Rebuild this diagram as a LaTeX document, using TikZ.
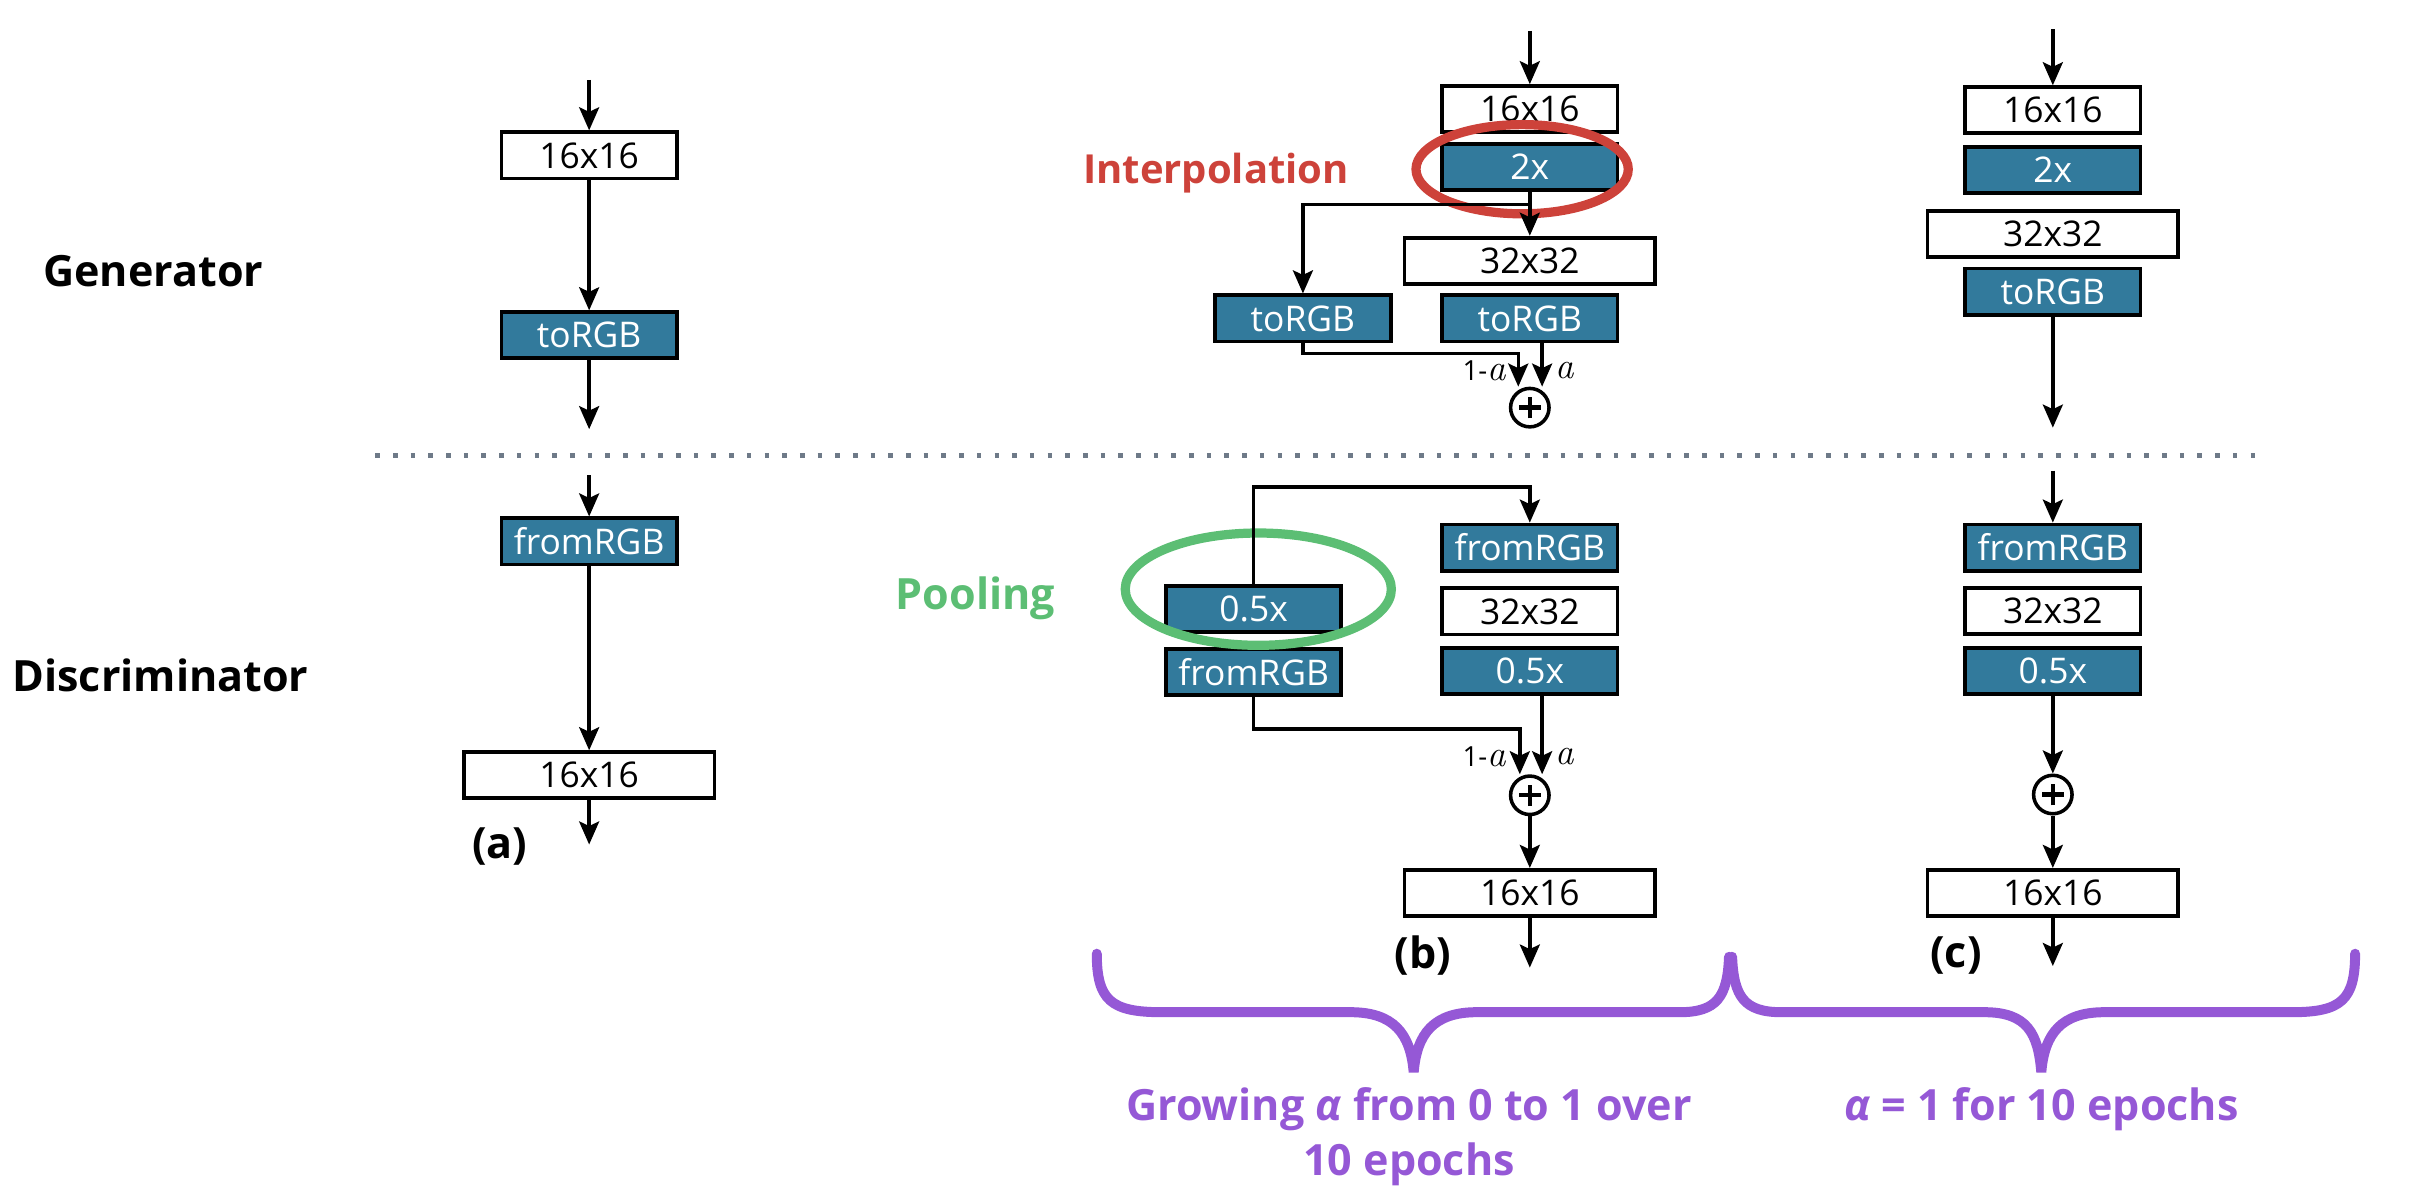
\documentclass[tikz,border=0pt]{standalone}
\usepackage{fontspec}
\setmainfont{Open Sans}
\newfontfamily\lmfont{Latin Modern Roman}
\usetikzlibrary{arrows.meta,shapes.geometric}
\definecolor{boxblue}{RGB}{50,122,156}
\definecolor{interpred}{RGB}{205,66,58}
\definecolor{poolgreen}{RGB}{92,190,116}
\definecolor{bracepurple}{RGB}{149,88,214}
\definecolor{dotgrey}{RGB}{110,122,136}
\begin{document}
\begin{tikzpicture}[x=1pt,y=-1pt,->,>={Stealth[length=15pt,width=13pt,inset=3pt]},line width=2.2pt]
	\def \colb{994.5}
	\def \colc{1334.5}
	\def \sepline{296}
	\tikzstyle{w-node}=[rectangle,draw=black,line width=2.5pt,fill=white,inner sep=0pt,minimum height=30pt,minimum width=114pt,font=\fontsize{23}{27}\selectfont]
	\tikzstyle{b-node}=[w-node,fill=boxblue,text=white]
	\tikzstyle{wide}=[minimum width=163pt]
	\tikzstyle{sum-node}=[circle,draw=black,line width=2.3pt,minimum size=25pt,inner sep=0pt,
		path picture={\draw[-,line width=2.8pt] ([xshift=-7pt]path picture bounding box.center) -- ([xshift=7pt]path picture bounding box.center);
		\draw[-,line width=2.8pt] ([yshift=-7pt]path picture bounding box.center) -- ([yshift=7pt]path picture bounding box.center);}]
	\tikzstyle{annot}=[inner sep=0pt,font=\bfseries\fontsize{28}{32}\selectfont]
	\tikzstyle{w-label}=[inner sep=0pt,font=\fontsize{18}{22}\selectfont]
	\tikzstyle{ring}=[-,ellipse,draw,line width=6pt,inner sep=0pt]
	\tikzstyle{sep-line}=[-,dotgrey,line width=3pt,dash pattern=on 3pt off 8.5pt]
	\tikzstyle{brace-line}=[-,bracepurple,line width=6.5pt,line cap=round]
	\tikzstyle{brace-text}=[inner sep=0pt,align=center,text=bracepurple,font=\bfseries\fontsize{28}{36}\selectfont]
	\useasboundingbox (0,0) rectangle (1568,771);

	% labels
	\node[annot,anchor=west] (gen-label) at (27,176) {Generator};
	\node[annot,anchor=west] (dis-label) at (7,439) {Discriminator};
	\node[annot,text=interpred,font=\bfseries\fontsize{26}{30}\selectfont,anchor=base east] (interp) at (878,119.4) {Interpolation};
	\node[annot,text=poolgreen,anchor=base east] (pool) at (687,396.5) {Pooling};
	\node[annot] (lab-a) at (325,550) {(a)};
	\node[annot] (lab-b) at (925,621) {(b)};
	\node[annot] (lab-c) at (1271.5,621) {(c)};

	\draw[sep-line] (244,\sepline) -- (1472,\sepline);

	% column (a)
	\coordinate (ga-in) at (383,52);
	\node[w-node] 	(ga16)	at (383,101)	{16x16};
	\node[b-node] 	(garg)	at (383,218)	{toRGB};
	\coordinate (ga-out) at (383,279);
	\coordinate (da-in) at (383,309);
	\node[b-node] 	(dafr)	at (383,352)	{fromRGB};
	\node[w-node,wide] 	(da16)	at (383,504)	{16x16};
	\coordinate (da-out) at (383,549);

	% column (b), generator
	\coordinate (gb-in) at (\colb,20);
	\node[w-node] 	(gb16)	at (\colb,71)	{16x16};
	\node[b-node] 	(gb2x)	at (\colb,108.5)	{2x};
	\node[w-node,wide] 	(gb32)	at (\colb,169.5)	{32x32};
	\node[b-node] 	(gbrg)	at (\colb,207)	{toRGB};
	\node[b-node] 	(gbrgL)	at (847,207)	{toRGB};
	\node[sum-node] 	(gbsum)	at (\colb,265)	{};
	\coordinate (gb-split) at (\colb,133);
	\coordinate (gb-joinL) at (987,230);
	\node[w-label,anchor=east] 	(gb-1a)	at (980,241)	{1-{\lmfont\itshape\fontsize{24}{28}\selectfont a}};
	\node[w-label,anchor=west] 	(gb-a)	at (1010,241)	{{\lmfont\itshape\fontsize{24}{28}\selectfont a}};
	\node[ring,draw=interpred,minimum width=138pt,minimum height=58pt] (interp-ring) at (989.5,110) {};

	% column (b), discriminator
	\coordinate (db-top) at (\colb,316.5);
	\node[b-node] 	(dbpoolL)	at (815,396)	{0.5x};
	\node[b-node] 	(dbfrL)	at (815,437)	{fromRGB};
	\node[b-node] 	(dbfr)	at (\colb,356)	{fromRGB};
	\node[w-node] 	(db32)	at (\colb,397.5)	{32x32};
	\node[b-node] 	(dbpool)	at (\colb,436)	{0.5x};
	\node[sum-node] 	(dbsum)	at (\colb,517)	{};
	\node[w-node,wide] 	(db16)	at (\colb,580.5)	{16x16};
	\coordinate (db-joinL) at (988,474);
	\coordinate (db-out) at (\colb,629);
	\node[w-label,anchor=east] 	(db-1a)	at (980,492)	{1-{\lmfont\itshape\fontsize{24}{28}\selectfont a}};
	\node[w-label,anchor=west] 	(db-a)	at (1010,492)	{{\lmfont\itshape\fontsize{24}{28}\selectfont a}};
	\node[ring,draw=poolgreen,minimum width=173pt,minimum height=73pt] (pool-ring) at (818,383) {};

	% column (c)
	\coordinate (gc-in) at (\colc,19);
	\node[w-node] 	(gc16)	at (\colc,71.7)	{16x16};
	\node[b-node] 	(gc2x)	at (\colc,110.3)	{2x};
	\node[w-node,wide] 	(gc32)	at (\colc,152.2)	{32x32};
	\node[b-node] 	(gcrg)	at (\colc,189.5)	{toRGB};
	\coordinate (gc-out) at (\colc,278);
	\coordinate (dc-in) at (\colc,306);
	\node[b-node] 	(dcfr)	at (\colc,356)	{fromRGB};
	\node[w-node] 	(dc32)	at (\colc,397)	{32x32};
	\node[b-node] 	(dcpool)	at (\colc,436)	{0.5x};
	\node[sum-node] 	(dcsum)	at (\colc,516.5)	{};
	\node[w-node,wide] 	(dc16)	at (\colc,580.5)	{16x16};
	\coordinate (dc-out) at (\colc,628);

	\path
		(ga-in)	edge	(ga16)
		(ga16)	edge	(garg)
		(garg)	edge	(ga-out)
		(da-in)	edge	(dafr)
		(dafr)	edge	(da16)
		(da16)	edge	(da-out)
		%
		(gb-in)	edge	(gb16)
		(gb2x)	edge	(gb32)
		(dbsum)	edge	(db16)
		(db16)	edge	(db-out)
		%
		(gc-in)	edge	(gc16)
		(gcrg)	edge	(gc-out)
		(dc-in)	edge	(dcfr)
		(dcpool)	edge	(dcsum)
		(dcsum)	edge	(dc16)
		(dc16)	edge	(dc-out);

	\draw (gb-split) -| (gbrgL.north);
	\draw (gbrgL.south) |- (gb-joinL) -- (gb-joinL |- gbsum.north);
	\draw ([xshift=8pt]gbrg.south) -- ([xshift=8pt]gbrg.south |- gbsum.north);
	\draw (dbpoolL.north) |- (db-top) -- (dbfr.north);
	\draw (dbfrL.south) |- (db-joinL) -- (db-joinL |- dbsum.north);
	\draw ([xshift=8pt]dbpool.south) -- ([xshift=8pt]dbpool.south |- dbsum.north);

	% braces
	\draw[brace-line] (713,620) .. controls (713,650) and (722,658) .. (755,658) -- (878,658) .. controls (906,658) and (917,672) .. (919,697) .. controls (921,672) and (932,658) .. (960,658) -- (1092,658) .. controls (1116,658) and (1123,648) .. (1124,622);
	\draw[brace-line] (1126,622) .. controls (1127,648) and (1134,658) .. (1158,658) -- (1290,658) .. controls (1318,658) and (1325,672) .. (1327,697) .. controls (1329,672) and (1340,658) .. (1368,658) -- (1490,658) .. controls (1522,658) and (1531,650) .. (1531,620);
	\node[brace-text] (grow-text) at (916,739) {Growing \textit{α} from 0 to 1 over\\10 epochs};
	\node[brace-text] (hold-text) at (1327,721) {\textit{α} = 1 for 10 epochs};
\end{tikzpicture}
\end{document}
